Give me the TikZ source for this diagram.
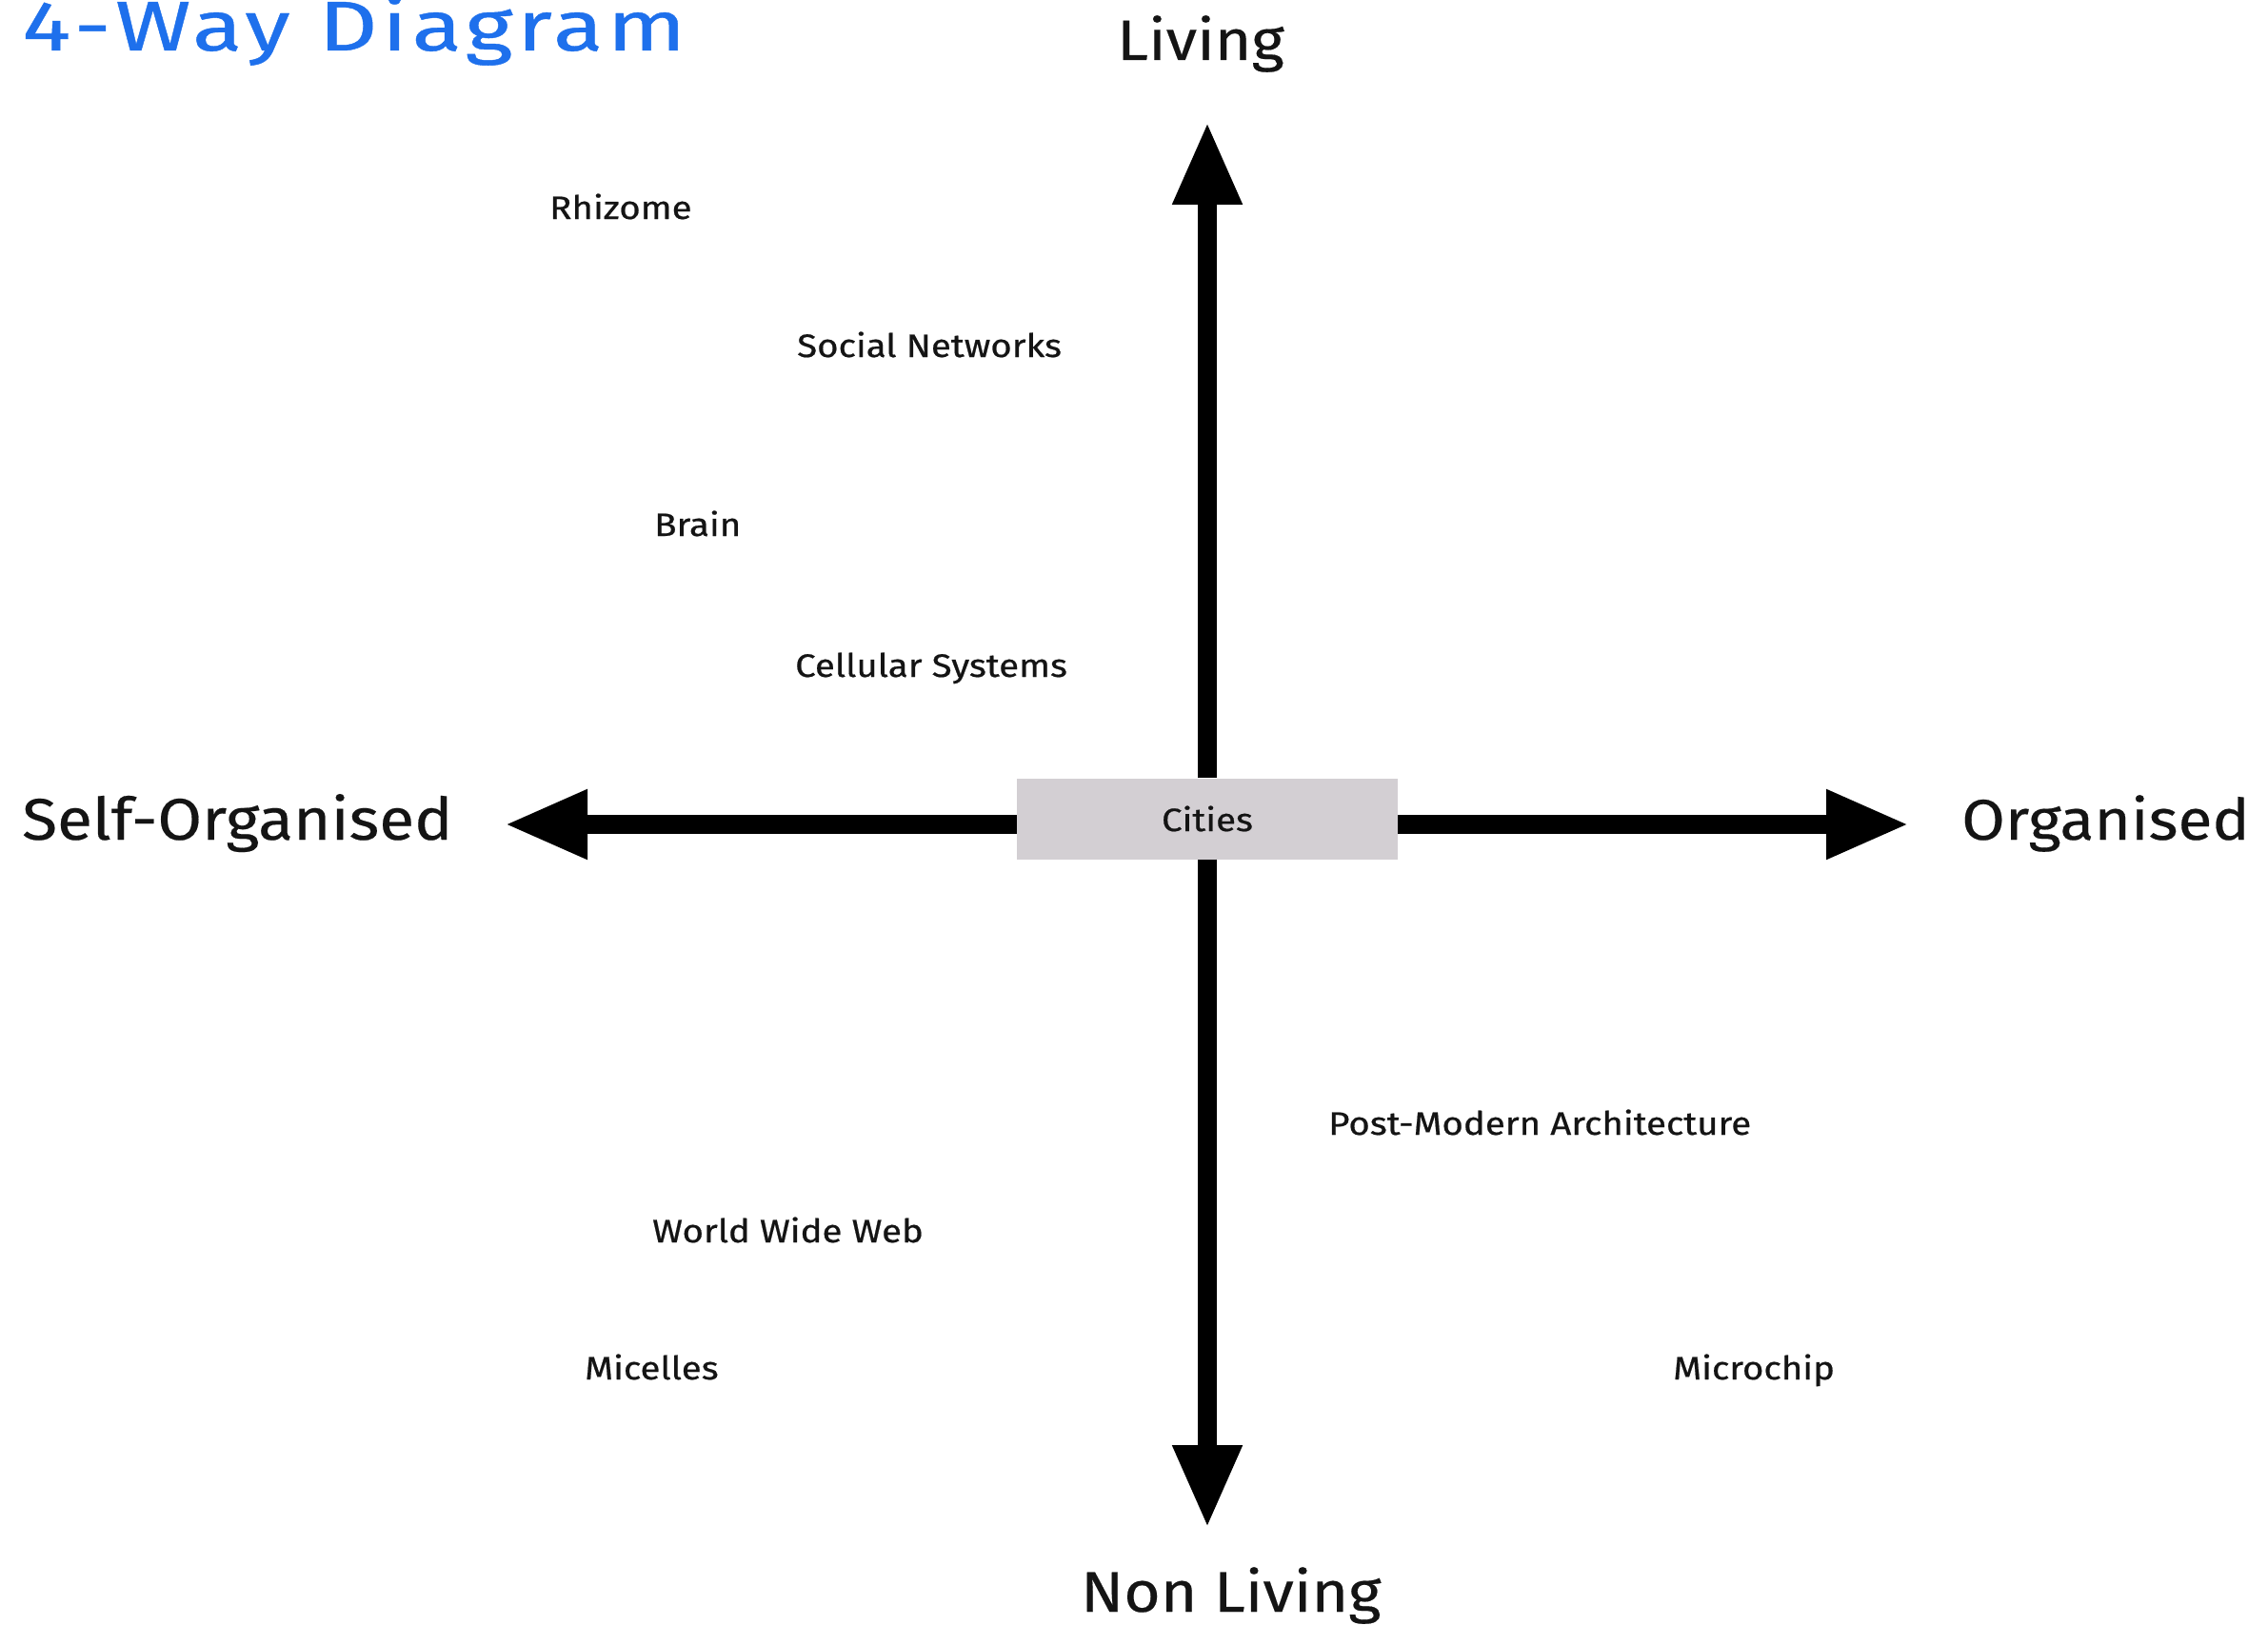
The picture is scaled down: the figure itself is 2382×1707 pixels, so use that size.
\documentclass[tikz,border=0pt]{standalone}
\usepackage{fontspec}
\setmainfont{Fira Sans}
\newfontfamily\titlefont[FakeStretch=1.3,LetterSpace=6,FakeBold=0.6]{Fira Sans}
\newfontfamily\bigfont[FakeStretch=1.1,FakeBold=0.3]{Fira Sans}
\newfontfamily\smallfont[FakeStretch=1.13,FakeBold=0.6]{Fira Sans}
\usetikzlibrary{arrows.meta}
\definecolor{titleblue}{RGB}{30,112,236}
\definecolor{boxgray}{RGB}{211,207,211}
\definecolor{ink}{RGB}{20,20,20}
\tikzset{
  biglabel/.style={anchor=base west, inner sep=0pt, text=ink, font=\bigfont\fontsize{60}{66}\selectfont},
  smalllabel/.style={anchor=base west, inner sep=0pt, text=ink, font=\smallfont\fontsize{34}{40}\selectfont},
  axis/.style={line width=20pt, draw=black, -{Triangle[length=87pt,width=68pt]}},
  centerbox/.style={fill=boxgray, draw=none, minimum width=400pt, minimum height=85pt, inner sep=0pt, text=ink, font=\smallfont\fontsize{34}{40}\selectfont}
}
\begin{document}
\begin{tikzpicture}[x=1pt,y=-1pt]
\useasboundingbox (0,0) rectangle (2382,1707);
\fill[white] (0,0) rectangle (2382,1707);
% title
\node[anchor=base west, inner sep=0pt, text=titleblue, font=\titlefont\fontsize{74}{80}\selectfont] (title) at (23,53) {4-Way Diagram};
% centre box
\node[centerbox] (cities) at (1268,860) {Cities};
% arrow tips
\coordinate (top) at (1268,128);
\coordinate (bottom) at (1268,1605);
\coordinate (left) at (530,866);
\coordinate (right) at (2005,866);
\draw[axis] (cities.north) -- (top);
\draw[axis] (cities.south) -- (bottom);
\draw[axis] (cities.west |- left) -- (left);
\draw[axis] (cities.east |- right) -- (right);
% axis labels
\node[biglabel] (living) at (1173,63) {Living};
\node[biglabel] (nonliving) at (1135,1693) {Non Living};
\node[biglabel, font=\bigfont\fontsize{61.5}{66}\selectfont] (selforg) at (23,882) {Self-Organised};
\node[biglabel] (org) at (2060,882) {Organised};
% items
\node[smalllabel] (rhizome) at (577,230) {Rhizome};
\node[smalllabel] (social) at (837,375) {Social Networks};
\node[smalllabel] (brain) at (687,563) {Brain};
\node[smalllabel] (cellular) at (835,711) {Cellular Systems};
\node[smalllabel] (postmodern) at (1395,1192) {Post-Modern Architecture};
\node[smalllabel] (www) at (685,1305) {World Wide Web};
\node[smalllabel] (micelles) at (614,1449) {Micelles};
\node[smalllabel] (microchip) at (1757,1449) {Microchip};
\end{tikzpicture}
\end{document}
